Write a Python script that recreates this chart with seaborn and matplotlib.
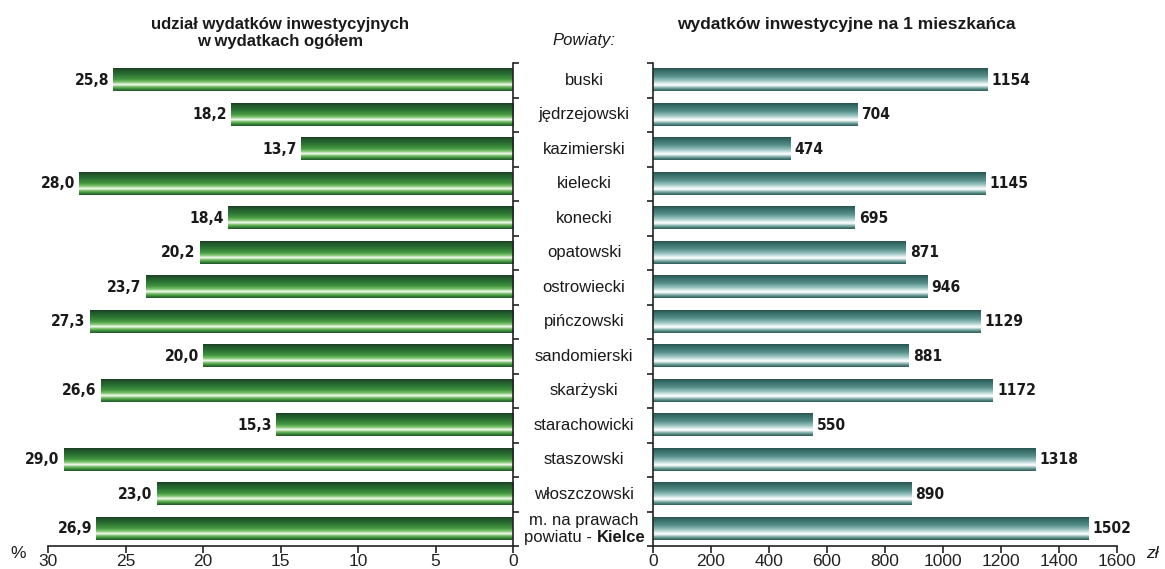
import numpy as np
import pandas as pd
import matplotlib
matplotlib.use("Agg")
import matplotlib.pyplot as plt
import matplotlib.transforms as mtransforms
from matplotlib.colors import LinearSegmentedColormap
from matplotlib import font_manager as fm
import seaborn as sns

powiaty = ["buski", "jędrzejowski", "kazimierski", "kielecki", "konecki", "opatowski",
           "ostrowiecki", "pińczowski", "sandomierski", "skarżyski", "starachowicki",
           "staszowski", "włoszczowski", "m. na prawach powiatu - Kielce"]
udzial = [25.8, 18.2, 13.7, 28.0, 18.4, 20.2, 23.7, 27.3, 20.0, 26.6, 15.3, 29.0, 23.0, 26.9]
na_mieszkanca = [1154, 704, 474, 1145, 695, 871, 946, 1129, 881, 1172, 550, 1318, 890, 1502]
left_ticks = [30, 25, 20, 15, 10, 5, 0]
right_ticks = [0, 200, 400, 600, 800, 1000, 1200, 1400, 1600]

sns.set_theme(style="white")
plt.rcParams["font.family"] = ["Liberation Sans", "DejaVu Sans"]

# condensed bold font for the value labels
cond = [f for f in fm.fontManager.ttflist
        if ("Narrow" in f.name or "Condensed" in f.name or f.stretch in ("condensed", "semi-condensed"))]
cond_bold = [f for f in cond if f.weight in ("bold", 700, "heavy")]
if cond_bold:
    valprop = fm.FontProperties(fname=cond_bold[0].fname, size=11.2)
else:
    valprop = fm.FontProperties(family=["Liberation Sans", "DejaVu Sans"], weight="bold", size=11)

W, H = 1165, 569
fig = plt.figure(figsize=(W / 100, H / 100), dpi=100)
axL = fig.add_axes([48 / W, 23 / H, 465 / W, 483 / H])
axR = fig.add_axes([653 / W, 23 / H, 464 / W, 483 / H])

df = pd.DataFrame({"powiat": powiaty, "udzial": udzial, "mieszk": na_mieszkanca})
sns.barplot(data=df, y="powiat", x="udzial", orient="h", ax=axL, color="green",
            width=0.64, saturation=1)
sns.barplot(data=df, y="powiat", x="mieszk", orient="h", ax=axR, color="teal",
            width=0.64, saturation=1)

green = LinearSegmentedColormap.from_list("g", [
    (0.0, "#183d22"), (0.1, "#22572b"), (0.3, "#2c7434"), (0.5, "#469a42"),
    (0.63, "#8acb7a"), (0.72, "#ffffff"), (0.8, "#86c774"), (0.9, "#3b8f39"),
    (1.0, "#21552a")])
teal = LinearSegmentedColormap.from_list("t", [
    (0.0, "#29534f"), (0.12, "#366c67"), (0.35, "#568e89"), (0.55, "#9cc5c1"),
    (0.7, "#eef8f7"), (0.75, "#ffffff"), (0.84, "#94bdb9"), (0.93, "#4b7f7a"),
    (1.0, "#2f5c58")])


def grad_fill(ax, cmap):
    grad = np.linspace(0, 1, 256).reshape(-1, 1)
    for p in list(ax.patches):
        x0, y0 = p.get_x(), p.get_y()
        w, h = p.get_width(), p.get_height()
        p.set_facecolor("none")
        p.set_edgecolor("none")
        ax.imshow(grad, cmap=cmap, aspect="auto", origin="upper",
                  extent=(x0, x0 + w, y0 + h, y0), interpolation="bilinear", zorder=2)


grad_fill(axL, green)
grad_fill(axR, teal)

n = len(powiaty)
bounds = np.arange(-0.5, n, 1.0)
axL.set_xlim(30, 0)
axR.set_xlim(0, 1600)
for ax in (axL, axR):
    ax.set_ylim(n - 0.5, -0.5)
    ax.set_xlabel("")
    ax.set_ylabel("")
    ax.set_yticks(bounds)
    ax.set_yticklabels([])
    for s in ax.spines.values():
        s.set_color("#222222")
        s.set_linewidth(1.2)
    ax.spines["top"].set_visible(False)
    ax.tick_params(axis="x", direction="out", length=5, width=1.2, color="#222222",
                   labelsize=12.5, labelcolor="#222222", pad=1, bottom=True)
    ax.tick_params(axis="y", direction="out", length=4, width=1.2, color="#222222")

axL.spines["left"].set_visible(False)
axL.yaxis.tick_right()
axR.spines["right"].set_visible(False)
axR.yaxis.tick_left()
axL.set_xticks(left_ticks)
axL.set_xticklabels([str(t) for t in left_ticks])
axR.set_xticks(right_ticks)
axR.set_xticklabels([str(t) for t in right_ticks])

for i, v in enumerate(udzial):
    axL.annotate(f"{v:.1f}".replace(".", ","), (v, i), xytext=(-3, 0),
                 textcoords="offset points", ha="right", va="center",
                 fontproperties=valprop, color="#1a1a1a")
for i, v in enumerate(na_mieszkanca):
    axR.annotate(str(v), (v, i), xytext=(3, 0),
                 textcoords="offset points", ha="left", va="center",
                 fontproperties=valprop, color="#1a1a1a")

tr = mtransforms.blended_transform_factory(fig.transFigure, axL.transData)
cx = 584 / W
for i, name in enumerate(powiaty[:-1]):
    axL.text(cx, i, name, transform=tr, ha="center", va="center", fontsize=12,
             color="#1a1a1a", clip_on=False)
last = n - 1
axL.text(cx, last - 0.24, "m. na prawach", transform=tr, ha="center", va="center",
         fontsize=12, color="#1a1a1a", clip_on=False)
axL.text(597 / W, last + 0.24, "powiatu - ", transform=tr, ha="right", va="center",
         fontsize=12, color="#1a1a1a", clip_on=False)
axL.text(597 / W, last + 0.24, "Kielce", transform=tr, ha="left", va="center",
         fontsize=12, color="#1a1a1a", weight="bold", clip_on=False)

fig.text(280 / W, 1 - 33 / H, "udział wydatków inwestycyjnych\nw wydatkach ogółem",
         ha="center", va="center", fontsize=12, weight="bold", color="#1a1a1a",
         linespacing=1.1)
fig.text(584 / W, 1 - 40 / H, "Powiaty:", ha="center", va="center", fontsize=12,
         style="italic", color="#1a1a1a")
fig.text(846 / W, 1 - 24 / H, "wydatków inwestycyjne na 1 mieszkańca", ha="center",
         va="center", fontsize=12.5, weight="bold", color="#1a1a1a")
fig.text(18 / W, 1 - 553 / H, "%", ha="center", va="center", fontsize=12.5,
         color="#1a1a1a")
fig.text(1152 / W, 1 - 553 / H, "zł", ha="center", va="center", fontsize=12.5,
         style="italic", color="#1a1a1a")

fig.savefig("out.png", dpi=100)
